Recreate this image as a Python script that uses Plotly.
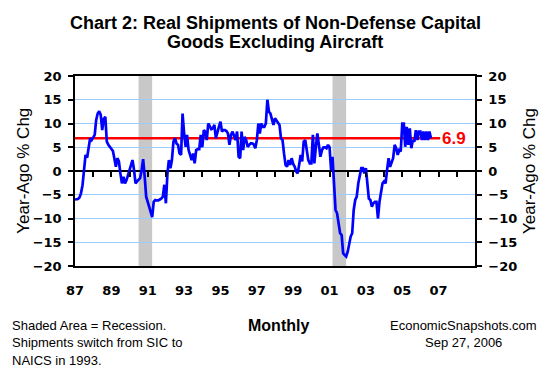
import pandas as pd
import plotly.graph_objects as go

# ---------------- data (year-ago % change, monthly, Jan 1987 - Aug 2006) ----------------
y1987 = [-6.0, -5.9, -5.9, -5.6, -4.7, -3.0, 0.8, 3.4, 2.8, 5.0, 6.9, 6.5]
y1988 = [7.0, 7.6, 10.7, 12.1, 12.6, 11.8, 8.6, 11.0, 11.4, 6.2, 5.5, 5.1]
y1989 = [4.6, 4.2, 2.7, 0.9, 2.7, 2.0, -0.5, -2.6, -1.2, -2.6, -1.9, -0.8]
y1990 = [0.6, 1.2, 2.3, 0.2, -2.6, -2.2, -1.9, -1.5, 0.2, 2.5, -1.2, -5.4]
y1991 = [-6.5, -7.5, -8.9, -9.7, -6.5, -6.1, -6.2, -6.2, -6.0, -5.8, -5.4, -2.9]
y1992 = [-6.8, -0.5, 2.3, 0.6, 2.3, 6.2, 6.9, 5.8, 5.5, 3.7, 3.4, 12.1]
y1993 = [7.9, 5.1, 7.6, 4.4, 3.4, 2.3, 3.7, 1.6, 4.4, 4.6, 4.6, 7.6]
y1994 = [5.0, 8.6, 8.3, 6.5, 10.0, 9.2, 8.8, 9.0, 9.7, 6.9, 7.9, 9.3]
y1995 = [10.4, 8.3, 8.6, 8.6, 8.4, 7.9, 5.5, 7.6, 8.3, 7.2, 6.5, 8.3]
y1996 = [3.0, 2.7, 8.3, 4.4, 7.2, 6.5, 5.1, 5.5, 5.8, 5.8, 5.6, 4.8]
y1997 = [6.5, 10.0, 7.9, 10.0, 9.3, 9.3, 10.0, 15.0, 12.5, 12.1, 10.7, 9.7]
y1998 = [11.1, 10.6, 10.4, 9.7, 6.9, 6.5, 3.7, 1.3, 0.9, 2.3, 1.3, 2.7]
y1999 = [1.5, 0.9, -0.1, -0.5, 1.3, 3.4, 2.0, 6.2, 6.5, 4.1, 2.3, 1.6]
y2000 = [1.6, 7.6, 1.6, 5.1, 7.9, 5.5, 3.0, 4.4, 5.0, 5.0, 4.8, 5.5]
y2001 = [5.0, 0.2, 3.0, -2.6, -8.2, -8.9, -11.4, -13.1, -13.5, -17.3, -17.7, -18.0]
y2002 = [-17.0, -15.2, -13.8, -13.1, -8.2, -6.1, -5.4, -2.6, -0.8, 0.6, 0.6, -0.5]
y2003 = [0.6, -2.6, -5.8, -6.1, -7.5, -6.8, -6.5, -6.5, -10.0, -6.5, -4.4, -2.6]
y2004 = [-2.2, -2.6, 0.2, 2.7, 0.9, 1.8, 2.7, 5.5, 4.8, 3.4, 4.4, 4.1]
y2005 = [10.0, 10.0, 5.1, 9.3, 5.5, 9.0, 4.8, 6.5, 6.2, 8.6, 6.5, 8.3]
y2006 = [8.3, 6.5, 8.3, 6.5, 8.3, 6.5, 8.3, 6.9]

series_start = "1987-01-01"
latest_value = 6.9
latest_label = "6.9"
reference_line_end = "2007-02-01"

recessions = [("1990-07-01", "1991-03-31"), ("2001-03-01", "2001-11-30")]

x_range = ["1987-01-01", "2009-01-01"]
label_years = list(range(1987, 2008, 2))
tick_labels = ["87", "89", "91", "93", "95", "97", "99", "01", "03", "05", "07"]
minor_tick_years = list(range(1988, 2009))
y_ticks = [-20, -15, -10, -5, 0, 5, 10, 15, 20]

title_line1 = "Chart 2: Real Shipments of Non-Defense Capital"
title_line2 = "Goods Excluding Aircraft"
y_title = "Year-Ago % Chg"
notes = ["Shaded Area = Recession.", "Shipments switch from SIC to", "NAICS in 1993."]
x_title = "Monthly"
source_lines = ["EconomicSnapshots.com", "Sep 27, 2006"]

# ---------------- build ----------------
yoy = (y1987 + y1988 + y1989 + y1990 + y1991 + y1992 + y1993 + y1994 + y1995 + y1996
       + y1997 + y1998 + y1999 + y2000 + y2001 + y2002 + y2003 + y2004 + y2005 + y2006)
dates = pd.date_range(series_start, periods=len(yoy), freq="MS")

W, H = 550, 375
L, R, T, B = 75, 75, 76, 109
PW, PH = W - L - R, H - T - B


def px_x(px):
    return (px - L) / PW


def px_y(py):
    return (H - B - py) / PH


ARIAL = "Liberation Sans, Arial, sans-serif"
TICKFONT = dict(family="DejaVu Sans", size=13, color="black", weight="bold")

fig = go.Figure()

fig.add_trace(go.Scatter(
    x=[dates[0], pd.Timestamp(reference_line_end)], y=[latest_value, latest_value],
    mode="lines", line=dict(color="#FF0000", width=2.5), hoverinfo="skip", showlegend=False))

fig.add_trace(go.Scatter(
    x=dates, y=yoy, mode="lines", line=dict(color="#0000FF", width=2.7),
    hoverinfo="skip", showlegend=False))

# invisible trace to activate the overlay axes
fig.add_trace(go.Scatter(x=[dates[0]], y=[0], mode="markers", marker=dict(opacity=0),
                         xaxis="x2", yaxis="y2", hoverinfo="skip", showlegend=False))

shapes = []
for s, e in recessions:
    shapes.append(dict(type="rect", xref="x", yref="paper", x0=s, x1=e, y0=0, y1=1,
                       fillcolor="#C8C8C8", line=dict(width=0), layer="between"))
# white box behind the value label
shapes.append(dict(type="rect", xref="paper", yref="paper",
                   x0=px_x(440), x1=px_x(469), y0=px_y(152), y1=px_y(110),
                   fillcolor="white", line=dict(width=0), layer="between"))

annotations = [
    dict(text=title_line1, x=px_x(275), y=px_y(23.5), xref="paper", yref="paper",
         showarrow=False, xanchor="center", yanchor="middle",
         font=dict(family=ARIAL, size=18, color="black", weight="bold")),
    dict(text=title_line2, x=px_x(275), y=px_y(42), xref="paper", yref="paper",
         showarrow=False, xanchor="center", yanchor="middle",
         font=dict(family=ARIAL, size=18, color="black", weight="bold")),
    dict(text=y_title, x=px_x(22.7), y=px_y(171), xref="paper", yref="paper",
         showarrow=False, xanchor="center", yanchor="middle", textangle=-90,
         font=dict(family=ARIAL, size=17, color="black")),
    dict(text=y_title, x=px_x(529), y=px_y(171), xref="paper", yref="paper",
         showarrow=False, xanchor="center", yanchor="middle", textangle=-90,
         font=dict(family=ARIAL, size=17, color="black")),
    dict(text=latest_label, x=px_x(454), y=px_y(138), xref="paper", yref="paper",
         showarrow=False, xanchor="center", yanchor="middle",
         font=dict(family=ARIAL, size=17, color="#FF0000", weight="bold")),
    dict(text=x_title, x=px_x(278), y=px_y(325.5), xref="paper", yref="paper",
         showarrow=False, xanchor="center", yanchor="middle",
         font=dict(family=ARIAL, size=16, color="black", weight="bold")),
]
for i, line in enumerate(notes):
    annotations.append(dict(text=line, x=px_x(10), y=px_y(325 + i * 17.7), xref="paper", yref="paper",
                            showarrow=False, xanchor="left", yanchor="middle",
                            font=dict(family=ARIAL, size=13, color="black")))
for i, line in enumerate(source_lines):
    annotations.append(dict(text=line, x=px_x(463), y=px_y(325 + i * 17.7), xref="paper", yref="paper",
                            showarrow=False, xanchor="center", yanchor="middle",
                            font=dict(family=ARIAL, size=13, color="black")))

fig.update_layout(
    width=W, height=H,
    margin=dict(l=L, r=R, t=T, b=B, pad=0),
    paper_bgcolor="white", plot_bgcolor="white",
    showlegend=False,
    shapes=shapes, annotations=annotations,
    xaxis=dict(type="date", range=x_range,
               tickvals=[f"{y}-01-01" for y in label_years], ticktext=tick_labels,
               ticks="", ticklabelstandoff=12, tickfont=TICKFONT,
               showline=True, linecolor="black", linewidth=1.5, mirror=True,
               showgrid=False, zeroline=False),
    xaxis2=dict(type="date", range=x_range, overlaying="x", anchor="free", position=0.5,
                tickvals=[f"{y}-01-01" for y in minor_tick_years],
                ticks="outside", ticklen=5, tickwidth=1.5, tickcolor="black",
                showticklabels=False, showline=False, showgrid=False, zeroline=False),
    yaxis=dict(range=[-20, 20], tickvals=y_ticks, ticks="outside", ticklen=5, tickwidth=1.5,
               tickcolor="black", tickfont=TICKFONT, ticklabelstandoff=4,
               showline=True, linecolor="black", linewidth=1.5,
               showgrid=True, gridcolor="#99CCFF", gridwidth=1,
               zeroline=True, zerolinecolor="black", zerolinewidth=1.5),
    yaxis2=dict(range=[-20, 20], tickvals=y_ticks, overlaying="y", side="right", anchor="x",
                ticks="outside", ticklen=5, tickwidth=1.5, tickcolor="black", tickfont=TICKFONT,
                ticklabelstandoff=4,
                showline=True, linecolor="black", linewidth=1.5, showgrid=False, zeroline=False),
)

fig.write_html("out.html", config={"displayModeBar": False},
               post_script="document.body.style.margin='0';")
